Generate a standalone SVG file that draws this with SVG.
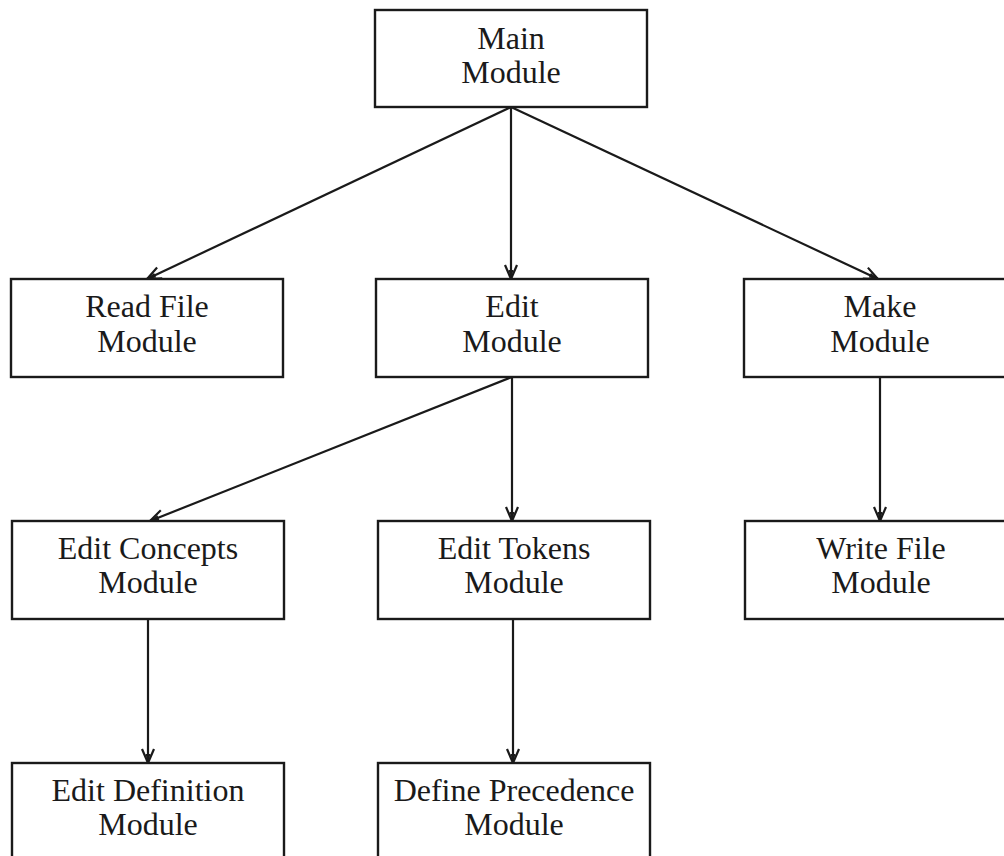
<svg xmlns="http://www.w3.org/2000/svg" width="1004" height="856" viewBox="0 0 1004 856">
<style>
.box{fill:#fff;stroke:#1a1a1a;stroke-width:2.4}
.lbl{font-family:"Liberation Serif","Times New Roman",serif;font-size:32px;fill:#1a1a1a;text-anchor:middle}
.edge{stroke:#1a1a1a;stroke-width:2.2;fill:none}
</style>
<defs>
<marker id="arr" viewBox="-16 -8 18 16" refX="0" refY="0" markerWidth="18" markerHeight="16" markerUnits="userSpaceOnUse" orient="auto">
<path d="M-14,-6 L0,0 L-14,6" fill="none" stroke="#1a1a1a" stroke-width="2.2"/>
<path d="M-9,-2.5 L0,0 L-9,2.5 z" fill="#1a1a1a"/>
</marker>
</defs>
<rect width="1004" height="856" fill="#fff"/>
<g id="connectors">
<line class="edge" x1="511" y1="107" x2="147" y2="279" marker-end="url(#arr)"/>
<line class="edge" x1="511" y1="107" x2="511" y2="279" marker-end="url(#arr)"/>
<line class="edge" x1="511" y1="107" x2="878" y2="279" marker-end="url(#arr)"/>
<line class="edge" x1="512" y1="377" x2="150" y2="521" marker-end="url(#arr)"/>
<line class="edge" x1="512" y1="377" x2="512" y2="521" marker-end="url(#arr)"/>
<line class="edge" x1="880" y1="377" x2="880" y2="521" marker-end="url(#arr)"/>
<line class="edge" x1="148" y1="619" x2="148" y2="763" marker-end="url(#arr)"/>
<line class="edge" x1="513" y1="619" x2="513" y2="763" marker-end="url(#arr)"/>
</g>
<g id="main">
<rect class="box" x="375" y="10" width="272" height="97"/>
<text class="lbl" x="511" y="49">Main</text>
<text class="lbl" x="511" y="83">Module</text>
</g>
<g id="readfile">
<rect class="box" x="11" y="279" width="272" height="98"/>
<text class="lbl" x="147" y="317">Read File</text>
<text class="lbl" x="147" y="352">Module</text>
</g>
<g id="edit">
<rect class="box" x="376" y="279" width="272" height="98"/>
<text class="lbl" x="512" y="317">Edit</text>
<text class="lbl" x="512" y="352">Module</text>
</g>
<g id="make">
<rect class="box" x="744" y="279" width="272" height="98"/>
<text class="lbl" x="880" y="317">Make</text>
<text class="lbl" x="880" y="352">Module</text>
</g>
<g id="editconcepts">
<rect class="box" x="12" y="521" width="272" height="98"/>
<text class="lbl" x="148" y="559">Edit Concepts</text>
<text class="lbl" x="148" y="593">Module</text>
</g>
<g id="edittokens">
<rect class="box" x="378" y="521" width="272" height="98"/>
<text class="lbl" x="514" y="559">Edit Tokens</text>
<text class="lbl" x="514" y="593">Module</text>
</g>
<g id="writefile">
<rect class="box" x="745" y="521" width="272" height="98"/>
<text class="lbl" x="881" y="559">Write File</text>
<text class="lbl" x="881" y="593">Module</text>
</g>
<g id="editdefinition">
<rect class="box" x="12" y="763" width="272" height="98"/>
<text class="lbl" x="148" y="801">Edit Definition</text>
<text class="lbl" x="148" y="835">Module</text>
</g>
<g id="defineprecedence">
<rect class="box" x="378" y="763" width="272" height="98"/>
<text class="lbl" x="514" y="801">Define Precedence</text>
<text class="lbl" x="514" y="835">Module</text>
</g>
</svg>
